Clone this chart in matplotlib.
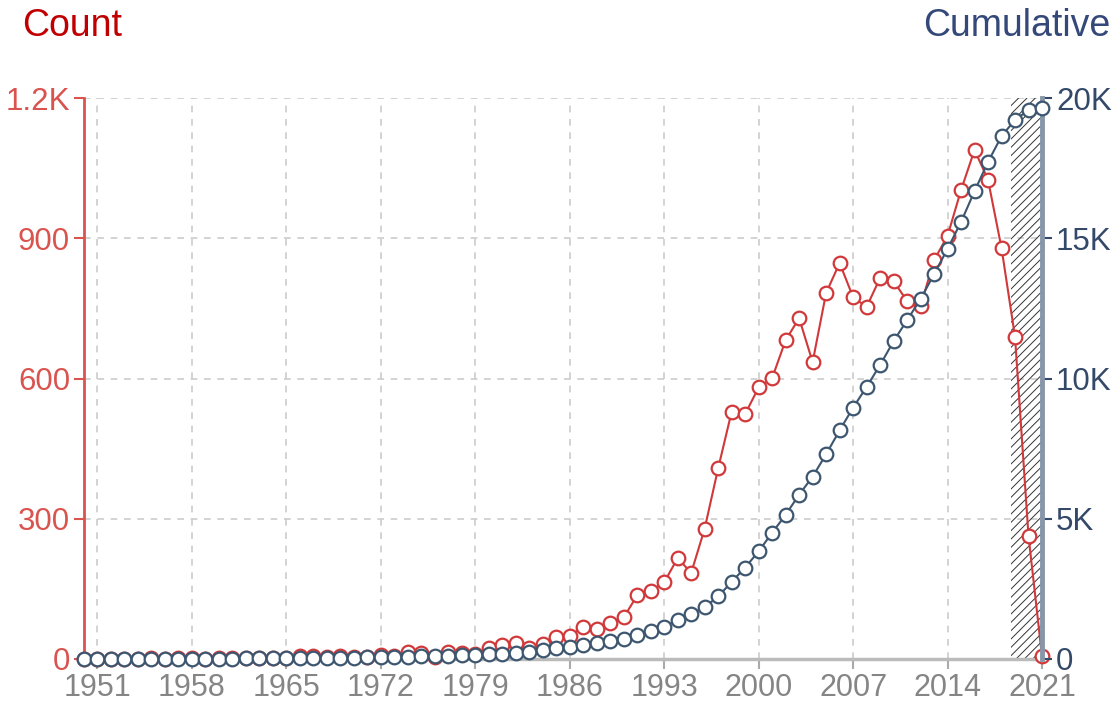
import matplotlib
matplotlib.use("Agg")
import matplotlib.pyplot as plt
import numpy as np

plt.rcParams['font.family'] = ['Liberation Sans', 'DejaVu Sans']
plt.rcParams['hatch.linewidth'] = 0.7

years = list(range(1950, 2022))
count = [0, 1, 0, 1, 1, 2, 1, 2, 2, 1,
         2, 2, 3, 2, 3, 3, 6, 6, 4, 7,
         4, 4, 8, 6, 15, 13, 5, 16, 12, 11,
         24, 29, 35, 24, 32, 46, 49, 69, 65, 76,
         89, 136, 146, 164, 216, 184, 279, 408, 529, 524,
         581, 601, 682, 729, 635, 783, 847, 774, 753, 815,
         808, 766, 755, 853, 905, 1003, 1089, 1025, 879, 689,
         263, 6]
cumulative = [0, 1, 1, 2, 3, 5, 6, 8, 10, 11,
              13, 15, 18, 20, 23, 26, 32, 38, 42, 49,
              53, 57, 65, 71, 86, 99, 104, 120, 132, 143,
              167, 196, 231, 255, 321, 380, 428, 497, 562, 638,
              727, 860, 990, 1140, 1400, 1600, 1850, 2230, 2750, 3260,
              3840, 4500, 5140, 5860, 6500, 7300, 8150, 8960, 9700, 10480,
              11330, 12080, 12830, 13720, 14620, 15580, 16680, 17720, 18640, 19220,
              19570, 19640]

xticks = list(range(1951, 2022, 7))
left_ticks = [0, 300, 600, 900, 1200]
left_labels = ['0', '300', '600', '900', '1.2K']
right_ticks = [0, 5000, 10000, 15000, 20000]
right_labels = ['0', '5K', '10K', '15K', '20K']
hatch_span = (2018.7, 2021)

RED = '#d0383a'
RED_TXT = '#d9534f'
BLUE = '#3d5670'
BLUE_TXT = '#34496a'
GRAY_TXT = '#858585'

fig = plt.figure(figsize=(11.2, 7.07), dpi=100)
ax = fig.add_axes([84/1120, 1-659/707, (1042-84)/1120, (659-98)/707])
ax2 = ax.twinx()

ax.set_xlim(1950, 2021)
ax.set_ylim(0, 1200)
ax2.set_ylim(0, 20000)

ax.axvspan(hatch_span[0], hatch_span[1], facecolor='none', edgecolor='#333333',
           hatch='////', linewidth=0, zorder=1)

ax.plot(years, count, color=RED, lw=1.5, marker='o', ms=9.8, mfc='white',
        mec=RED, mew=1.6, clip_on=False, zorder=3)
ax2.plot(years, cumulative, color=BLUE, lw=1.5, marker='o', ms=9.8, mfc='white',
         mec=BLUE, mew=1.6, clip_on=False, zorder=3)

ax.set_xticks(xticks)
ax.set_xticklabels([str(x) for x in xticks])
ax.set_yticks(left_ticks)
ax.set_yticklabels(left_labels)
ax2.set_yticks(right_ticks)
ax2.set_yticklabels(right_labels)

ax.grid(True, linestyle=(0, (4, 4)), color='#cccccc', lw=1.2, zorder=0)
ax.set_axisbelow(True)

ax.tick_params(axis='x', colors='#aaaaaa', labelcolor=GRAY_TXT, labelsize=22,
               length=7, width=1.5, pad=3)
ax.tick_params(axis='y', colors=RED_TXT, labelcolor=RED_TXT, labelsize=22.5,
               length=7, width=1.5, pad=3)
ax2.tick_params(axis='y', colors=BLUE_TXT, labelcolor=BLUE_TXT, labelsize=22.5,
                length=7, width=1.5, pad=3)

for s in ['top', 'right']:
    ax.spines[s].set_visible(False)
ax.spines['left'].set_color(RED_TXT)
ax.spines['left'].set_linewidth(2)
ax.spines['bottom'].set_color('#bbbbbb')
ax.spines['bottom'].set_linewidth(2.5)
for s in ['top', 'left', 'bottom']:
    ax2.spines[s].set_visible(False)
ax2.spines['right'].set_color('#8796a8')
ax2.spines['right'].set_linewidth(3.5)

fig.text(22/1120, 1-36/707, 'Count', color='#c00000', fontsize=27,
         ha='left', va='baseline')
fig.text(1110/1120, 1-36/707, 'Cumulative', color='#34497a', fontsize=27,
         ha='right', va='baseline')

fig.savefig('out.png', dpi=100)
